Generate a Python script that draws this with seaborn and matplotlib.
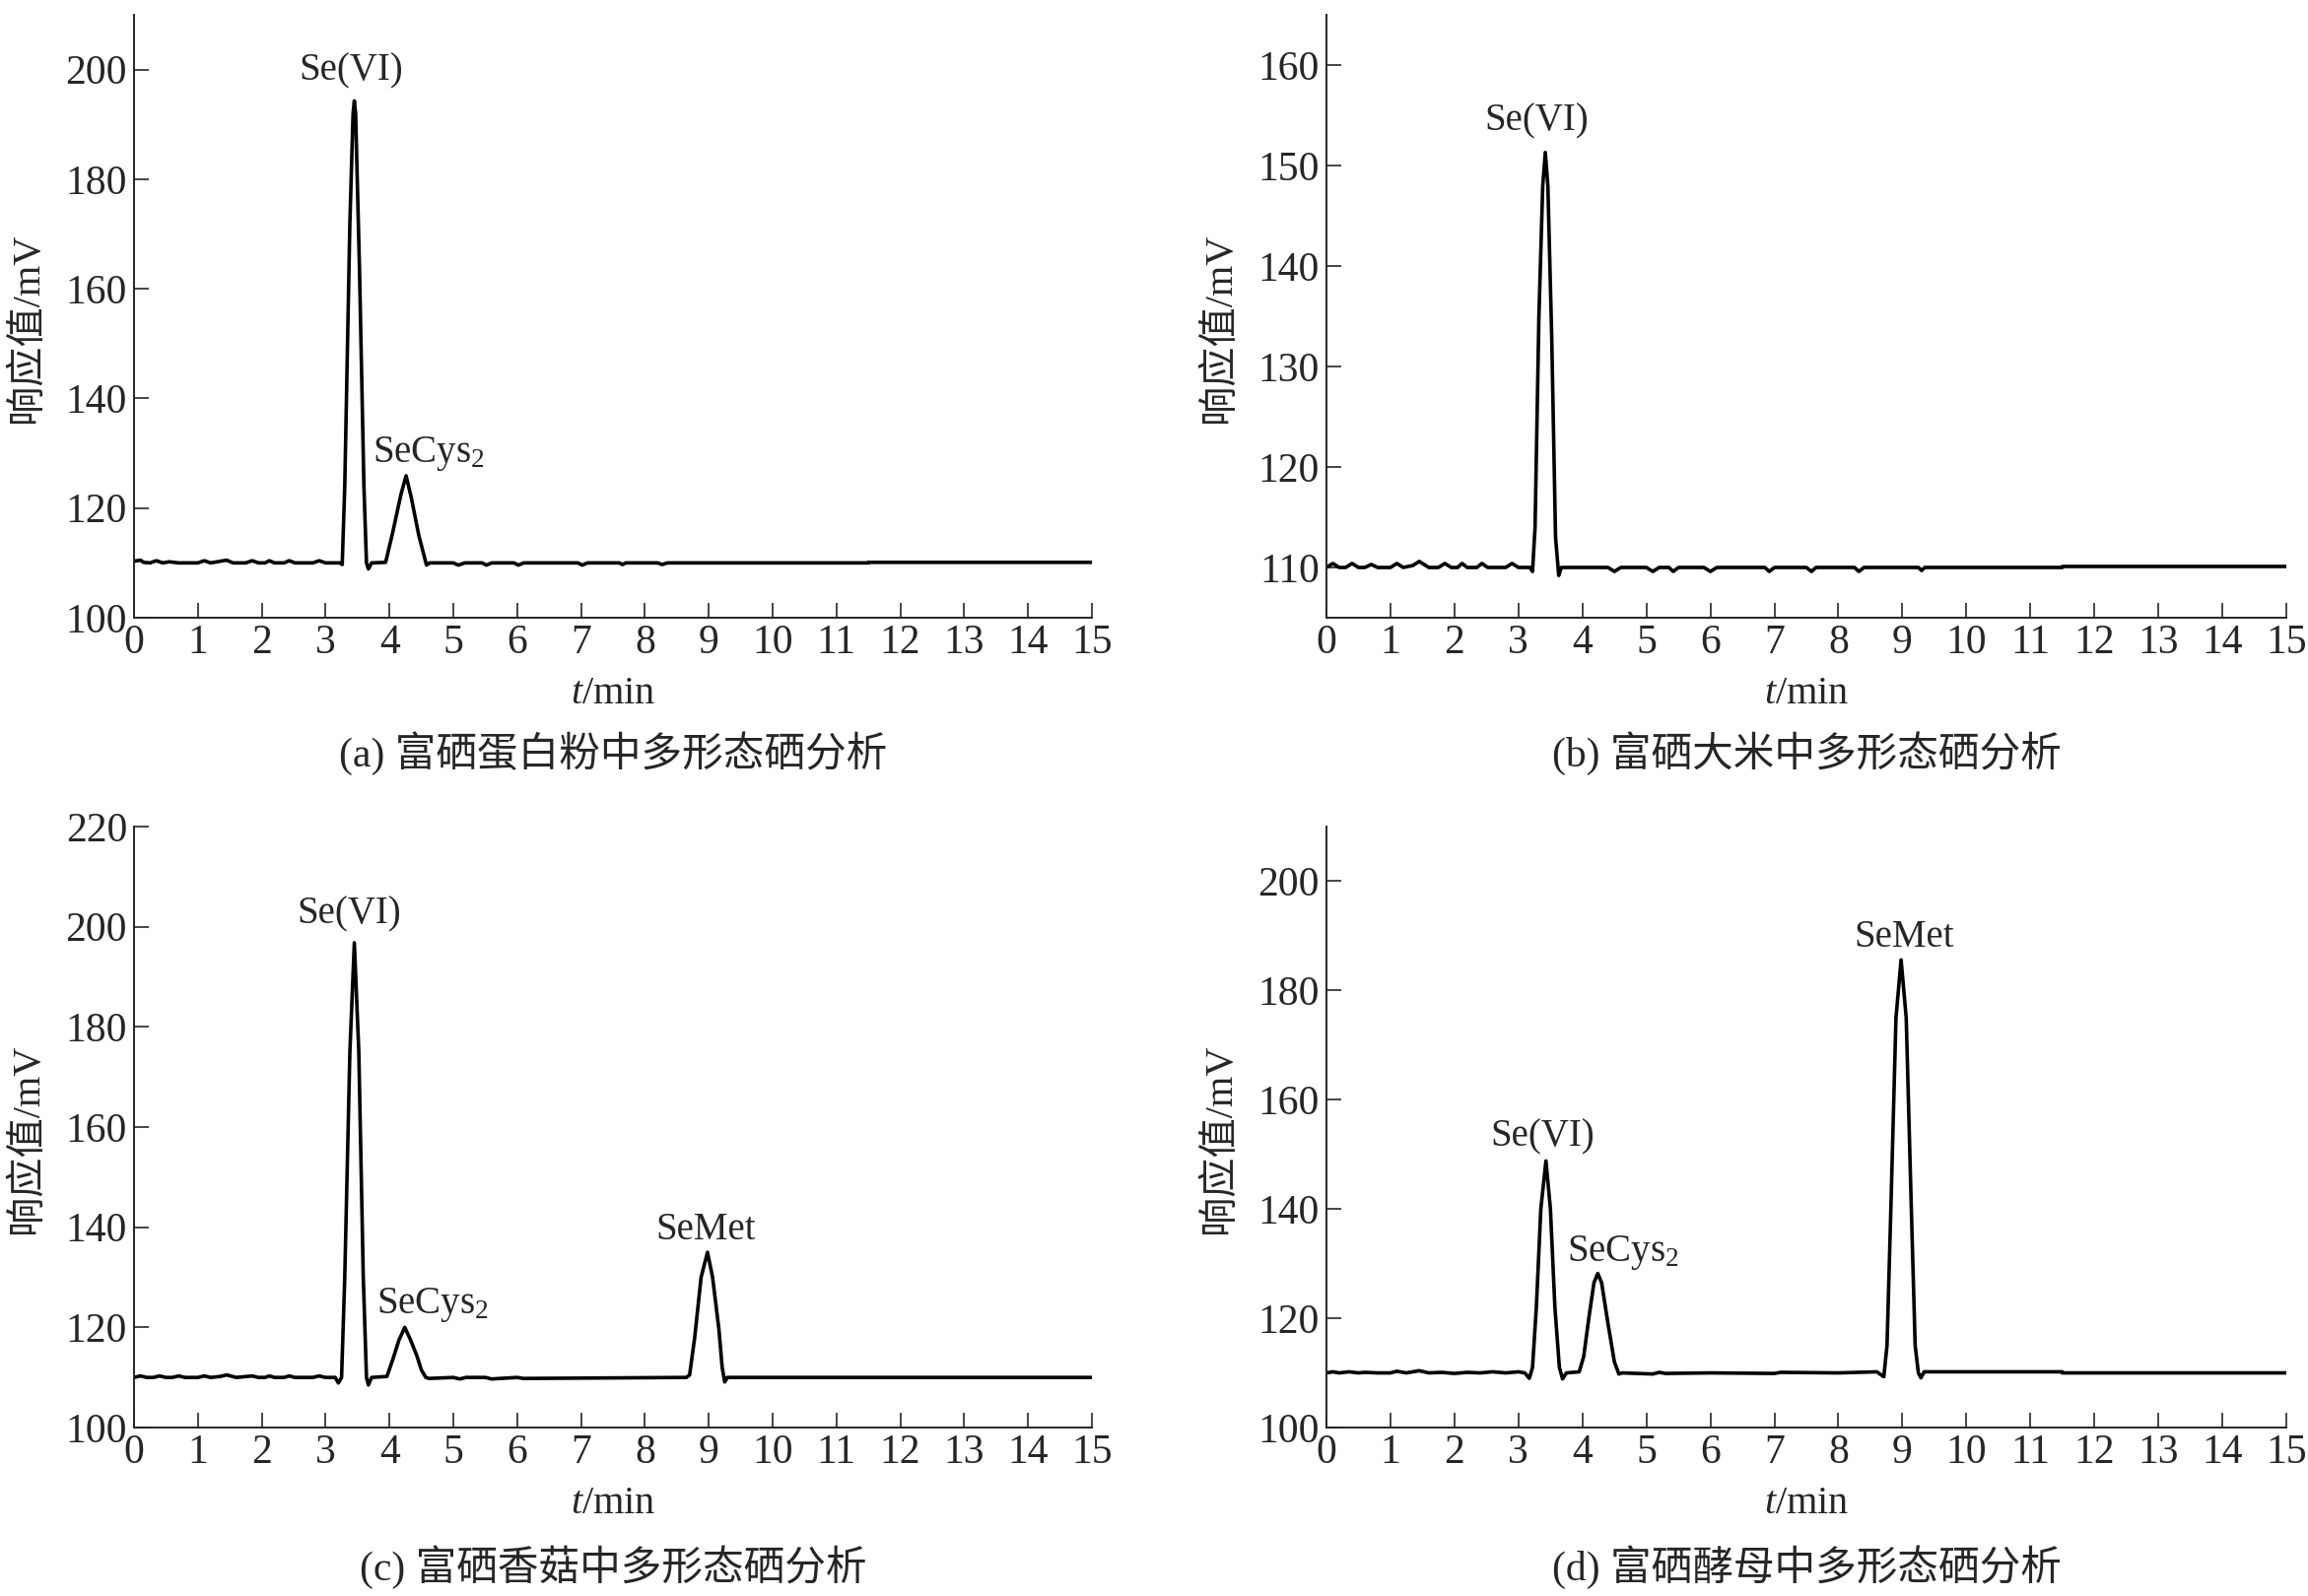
import numpy as np
import pandas as pd
import seaborn as sns
import matplotlib
matplotlib.use('Agg')
import matplotlib.pyplot as plt

# Chromatogram traces (time in min, response in mV)
t_a = [0, 0.1, 0.15, 0.25, 0.35, 0.45, 0.55, 0.7, 0.8, 1.0, 1.1, 1.2, 1.35, 1.45, 1.55,
       1.75, 1.85, 1.95, 2.05, 2.12, 2.2, 2.35, 2.43, 2.52, 2.8, 2.9, 3.0, 3.22,
       3.26, 3.30, 3.38, 3.43, 3.45, 3.47, 3.53, 3.60, 3.64, 3.67, 3.72, 3.94,
       4.05, 4.18, 4.26, 4.34, 4.46, 4.58, 4.63, 5.0, 5.08, 5.18, 5.45, 5.52, 5.6,
       5.95, 6.02, 6.1, 6.95, 7.02, 7.1, 7.6, 7.65, 7.7, 8.2, 8.27, 8.35, 11.5, 11.5, 15]
v_a = [110.3, 110.5, 110.1, 110.0, 110.4, 110.0, 110.2, 110.0, 110.0, 110.0, 110.4, 110.0, 110.3, 110.5, 110.0,
       110.0, 110.4, 110.0, 110.0, 110.4, 110.0, 110.0, 110.4, 110.0, 110.0, 110.4, 110.0, 110.0,
       109.7, 124.0, 172.0, 192.0, 194.3, 192.0, 164.0, 124.0, 110.0, 108.9, 110.0, 110.1,
       115.5, 122.5, 125.9, 122.0, 115.0, 109.6, 110.0, 110.0, 109.6, 110.0, 110.0, 109.6, 110.0,
       110.0, 109.6, 110.0, 110.0, 109.6, 110.0, 110.0, 109.7, 110.0, 110.0, 109.7, 110.0, 110.0, 110.1, 110.1]

t_b = [0, 0.1, 0.2, 0.3, 0.4, 0.5, 0.6, 0.7, 0.8, 1.0, 1.1, 1.2, 1.35, 1.45, 1.6,
       1.75, 1.85, 1.95, 2.05, 2.12, 2.2, 2.35, 2.43, 2.52, 2.8, 2.9, 3.0, 3.18,
       3.22, 3.26, 3.32, 3.38, 3.42, 3.46, 3.52, 3.58, 3.63, 3.67, 4.4, 4.5, 4.6,
       5.0, 5.1, 5.2, 5.35, 5.42, 5.5, 5.9, 6.0, 6.1, 6.85, 6.92, 7.0, 7.5, 7.58,
       7.65, 8.25, 8.32, 8.4, 9.25, 9.3, 9.35, 11.5, 11.5, 15]
v_b = [110.0, 110.4, 110.0, 110.0, 110.4, 110.0, 110.0, 110.3, 110.0, 110.0, 110.4, 110.0, 110.2, 110.6, 110.0,
       110.0, 110.4, 110.0, 110.0, 110.4, 110.0, 110.0, 110.4, 110.0, 110.0, 110.4, 110.0, 110.0,
       109.6, 114.0, 135.0, 148.0, 151.3, 148.0, 133.0, 113.0, 109.2, 110.0, 110.0, 109.6, 110.0,
       110.0, 109.6, 110.0, 110.0, 109.6, 110.0, 110.0, 109.6, 110.0, 110.0, 109.6, 110.0, 110.0, 109.6,
       110.0, 110.0, 109.6, 110.0, 110.0, 109.7, 110.0, 110.0, 110.1, 110.1]

t_c = [0, 0.1, 0.2, 0.3, 0.4, 0.5, 0.6, 0.7, 0.8, 1.0, 1.1, 1.2, 1.35, 1.45, 1.6,
       1.85, 1.95, 2.05, 2.12, 2.2, 2.35, 2.43, 2.52, 2.8, 2.9, 3.0, 3.15, 3.2, 3.25,
       3.30, 3.38, 3.45, 3.52, 3.59, 3.64, 3.67, 3.72, 3.96, 4.05, 4.15, 4.24, 4.33,
       4.43, 4.50, 4.57, 4.62, 5.0, 5.1, 5.2, 5.5, 5.6, 6.0, 6.1, 8.65, 8.70, 8.78, 8.88,
       8.98, 9.06, 9.16, 9.21, 9.25, 9.29, 11.5, 11.5, 15]
v_c = [110.0, 110.3, 110.0, 110.0, 110.3, 110.0, 110.0, 110.3, 110.0, 110.0, 110.3, 110.0, 110.2, 110.5, 110.0,
       110.3, 110.0, 110.0, 110.3, 110.0, 110.0, 110.3, 110.0, 110.0, 110.3, 110.0, 110.0, 108.9, 110.0,
       130.0, 175.0, 196.8, 175.0, 130.0, 110.0, 108.5, 110.0, 110.2, 113.5, 117.5, 120.0, 117.5,
       114.3, 111.5, 110.0, 109.8, 110.0, 109.7, 110.0, 110.0, 109.7, 110.0, 109.8, 110.0, 110.5, 118.0, 130.0,
       135.0, 130.0, 119.5, 112.0, 109.1, 110.0, 110.0, 110.0, 110.0]

t_d = [0, 0.1, 0.2, 0.35, 0.5, 0.6, 0.8, 1.0, 1.1, 1.25, 1.45, 1.6, 1.8, 2.0, 2.2,
       2.4, 2.6, 2.8, 3.0, 3.1, 3.17, 3.22, 3.28, 3.35, 3.43, 3.50, 3.57, 3.64,
       3.69, 3.75, 3.95, 4.02, 4.10, 4.18, 4.24, 4.30, 4.40, 4.50, 4.57, 4.62,
       5.1, 5.2, 5.3, 6.0, 7.0, 7.1, 8.0, 8.6, 8.71, 8.76, 8.82, 8.90, 8.98, 9.06,
       9.14, 9.20, 9.25, 9.29, 9.34, 11.5, 11.5, 15]
v_d = [110.0, 110.2, 110.0, 110.2, 110.0, 110.1, 110.0, 110.0, 110.3, 110.0, 110.4, 110.0, 110.1, 109.9, 110.1,
       110.0, 110.2, 110.0, 110.2, 110.0, 109.0, 111.0, 122.0, 140.0, 148.8, 140.0, 122.0, 111.0,
       108.9, 110.0, 110.2, 113.0, 120.0, 126.5, 128.2, 126.5, 119.0, 112.0, 109.8, 110.0,
       109.8, 110.1, 109.9, 110.0, 109.9, 110.1, 110.0, 110.2, 109.3, 115.0, 140.0, 175.0, 185.6, 175.0,
       140.0, 115.0, 110.0, 109.1, 110.2, 110.2, 110.0, 110.0]

# Peak labels: (text, time, mV, horizontal alignment)
labels_a = [('Se(VI)', 3.4, 199.8, 'center'), ('SeCys$_2$', 3.74, 130.0, 'left')]
labels_b = [('Se(VI)', 3.28, 154.4, 'center')]
labels_c = [('Se(VI)', 3.37, 202.5, 'center'), ('SeCys$_2$', 3.79, 124.5, 'left'),
            ('SeMet', 8.96, 139.5, 'center')]
labels_d = [('Se(VI)', 3.37, 153.3, 'center'), ('SeCys$_2$', 3.76, 132.0, 'left'),
            ('SeMet', 9.02, 189.8, 'center')]

captions = ['(a) 富硒蛋白粉中多形态硒分析', '(b) 富硒大米中多形态硒分析',
            '(c) 富硒香菇中多形态硒分析', '(d) 富硒酵母中多形态硒分析']
ylims = [(100, 210), (105, 165), (100, 220), (100, 210)]
yticks = [np.arange(100, 201, 20), np.arange(110, 161, 10),
          np.arange(100, 221, 20), np.arange(100, 201, 20)]
xticks = np.arange(0, 16, 1)

sns.set_style('ticks')
plt.rcParams['font.family'] = ['Liberation Serif', 'Noto Sans CJK SC']
plt.rcParams['mathtext.fontset'] = 'custom'
plt.rcParams['mathtext.rm'] = 'Liberation Serif'
plt.rcParams['mathtext.it'] = 'Liberation Serif:italic'

fig = plt.figure(figsize=(23.42, 16.2), dpi=100)
W, H = 2342, 1620
boxes = [(136, 1108, 15, 627), (1346, 2320, 15, 627),
         (136, 1108, 839, 1449), (1346, 2320, 839, 1449)]
caption_y = [765, 765, 1591, 1591]
traces = [(t_a, v_a), (t_b, v_b), (t_c, v_c), (t_d, v_d)]
all_labels = [labels_a, labels_b, labels_c, labels_d]

for i, (l, r, t, b) in enumerate(boxes):
    ax = fig.add_axes([l / W, 1 - b / H, (r - l) / W, (b - t) / H])
    df = pd.DataFrame({'t': traces[i][0], 'mV': traces[i][1]})
    sns.lineplot(x='t', y='mV', data=df, ax=ax, color='black', linewidth=2.6,
                 sort=False, estimator=None)
    ax.set_xlim(0, 15)
    ax.set_ylim(*ylims[i])
    ax.set_xticks(xticks)
    ax.set_yticks(yticks[i])
    ax.tick_params(direction='in', length=11, width=1.2, labelsize=30, pad=5)
    for s in ['left', 'bottom']:
        ax.spines[s].set_linewidth(1.4)
    sns.despine(ax=ax)
    ax.set_xlabel('$t$/min', fontsize=29, labelpad=10)
    ax.set_ylabel('响应值/mV', fontsize=29)
    ax.yaxis.set_label_coords(-0.092, 0.48)
    for txt, x, y, ha in all_labels[i]:
        ax.text(x, y, txt, fontsize=28, ha=ha, va='center')
    fig.text((l + r) / 2 / W, 1 - caption_y[i] / H, captions[i], fontsize=30,
             ha='center', va='center')

fig.savefig('out.png', dpi=100)
